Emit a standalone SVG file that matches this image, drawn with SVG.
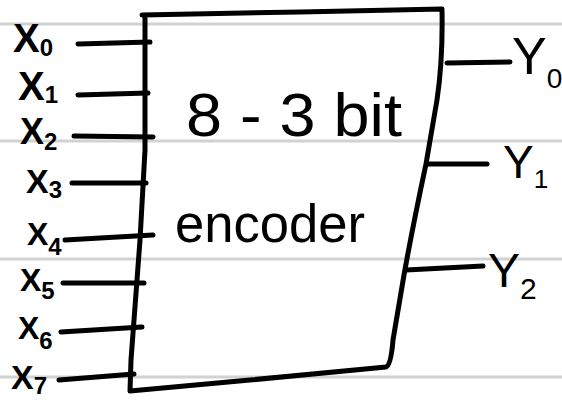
<svg xmlns="http://www.w3.org/2000/svg" width="562" height="400" viewBox="0 0 562 400">
<style>
.rule{stroke:#d2d2d2;stroke-width:3;fill:none}
.ink{stroke:#000;stroke-width:5;fill:none;stroke-linecap:round;stroke-linejoin:round}
.lbl{font-family:"Liberation Sans",Arial,sans-serif;fill:#000;font-weight:bold}
.big{font-family:"Liberation Sans",Arial,sans-serif;fill:#000}
</style>
<rect width="562" height="400" fill="#fff"/>
<g id="rules">
<line class="rule" x1="0" y1="24" x2="562" y2="24"/>
<line class="rule" x1="0" y1="141" x2="562" y2="141"/>
<line class="rule" x1="0" y1="259" x2="562" y2="259"/>
<line class="rule" x1="0" y1="377" x2="562" y2="377"/>
</g>
<g id="encoder">
<path class="ink" d="M142,15 L300,12 L442,9 Q443,60 437,100 L426,164 Q412,230 404,275 L393,340 Q391,365 386,367 L250,380 L130,391 L131,360 L140,240 L145,150 L145,16"/>
<text class="big" x="186" y="136" font-size="62" textLength="216" lengthAdjust="spacingAndGlyphs">8 - 3 bit</text>
<text class="big" x="175" y="242" font-size="54" textLength="190" lengthAdjust="spacingAndGlyphs">encoder</text>
</g>
<g id="connectors">
<path class="ink" d="M78,44 L150,42"/>
<path class="ink" d="M78,95 L148,93"/>
<path class="ink" d="M74,136 L153,137"/>
<path class="ink" d="M72,183 L146,183"/>
<path class="ink" d="M65,240 L153,235"/>
<path class="ink" d="M63,283 L144,283"/>
<path class="ink" d="M61,332 L142,327"/>
<path class="ink" d="M59,380 L134,374"/>
<path class="ink" d="M447,63 L510,62"/>
<path class="ink" d="M428,164 L487,164"/>
<path class="ink" d="M406,270 L483,266"/>
</g>
<g id="x0"><text class="lbl" x="13" y="52" font-size="40">X<tspan font-size="24" dy="4">0</tspan></text></g>
<g id="x1"><text class="lbl" x="18" y="100" font-size="40">X<tspan font-size="24" dy="3">1</tspan></text></g>
<g id="x2"><text class="lbl" x="20" y="144" font-size="36">X<tspan font-size="24" dy="6">2</tspan></text></g>
<g id="x3"><text class="lbl" x="26" y="193" font-size="34">X<tspan font-size="24" dy="5">3</tspan></text></g>
<g id="x4"><text class="lbl" x="27" y="245" font-size="32">X<tspan font-size="24" dy="10">4</tspan></text></g>
<g id="x5"><text class="lbl" x="20" y="291" font-size="32">X<tspan font-size="24" dy="8">5</tspan></text></g>
<g id="x6"><text class="lbl" x="18" y="339" font-size="32">X<tspan font-size="24" dy="10">6</tspan></text></g>
<g id="x7"><text class="lbl" x="11" y="389" font-size="34">X<tspan font-size="24" dy="5">7</tspan></text></g>
<g id="y0"><text class="big" x="512" y="74" font-size="52">Y<tspan font-size="28" dy="14">0</tspan></text></g>
<g id="y1"><text class="big" x="503" y="178" font-size="46">Y<tspan font-size="26" dy="10">1</tspan></text></g>
<g id="y2"><text class="big" x="488" y="287" font-size="48">Y<tspan font-size="30" dy="12">2</tspan></text></g>
</svg>
